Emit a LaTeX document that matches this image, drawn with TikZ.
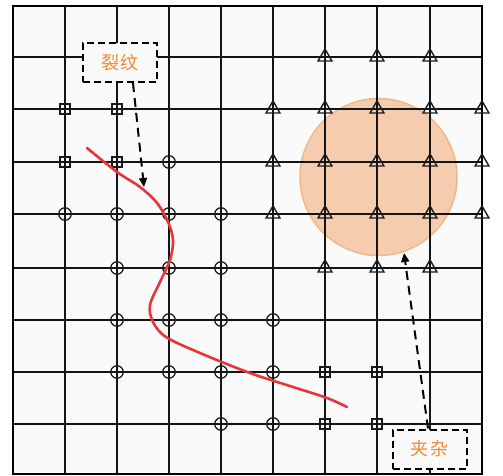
\documentclass[tikz,border=0pt]{standalone}
\usepackage{fontspec}
\newfontfamily\cjk{Noto Sans CJK SC}
\usetikzlibrary{shapes.geometric,arrows.meta}
\definecolor{lbl}{HTML}{F08A35}
\definecolor{peach}{HTML}{F5CDAE}
\definecolor{peachline}{HTML}{F0B88A}
\definecolor{crack}{HTML}{E8353B}
\definecolor{bgc}{HTML}{FAFAFA}
\tikzset{
  gridline/.style={line width=1.7pt, black!92},
  framebox/.style={line width=2.3pt, black},
  cmark/.style={circle, draw=black!90, line width=1.3pt, minimum size=12.5pt, inner sep=0pt},
  smark/.style={rectangle, draw=black!90, line width=1.3pt, minimum size=10pt, inner sep=0pt},
  tmark/.style={regular polygon, regular polygon sides=3, draw=black!90, line width=1.4pt, minimum size=16pt, inner sep=0pt},
  labelbox/.style={draw=black, fill=bgc, line width=2pt, dash pattern=on 7pt off 4pt, minimum width=74pt, minimum height=39pt, inner sep=0pt, text=lbl, font=\cjk\fontsize{18}{20}\selectfont},
  callout/.style={line width=2pt, dash pattern=on 9pt off 6pt, -{Triangle[length=9pt,width=8pt]}},
}
\begin{document}
\begin{tikzpicture}[x=1pt,y=-1pt]
\useasboundingbox (0,0) rectangle (503,476);
\fill[white] (0,0) rectangle (503,476);
\fill[bgc] (13,6) rectangle (482,474);
% inclusion region
\node[circle, fill=peach, draw=peachline, line width=1.5pt, minimum size=157pt, inner sep=0pt] (incl) at (378.5,177) {};
% grid
\foreach \x in {65,117,169,221,273,325,377,430}
  \draw[gridline] (\x,6) -- (\x,474);
\foreach \y in {57,109,162,214,268,320,372,424}
  \draw[gridline] (13,\y) -- (482,\y);
\draw[framebox] (13,6) rectangle (482,474);
% squares
\foreach \x/\y [count=\i] in {65/109,117/109,65/162,117/162,325/372,377/372,325/424,377/424}
  \node[smark] (s\i) at (\x,\y) {};
% circles
\foreach \x/\y [count=\i] in {169/162,65/214,117/214,169/214,221/214,117/268,169/268,221/268,117/320,169/320,221/320,273/320,117/372,169/372,221/372,273/372,221/424,273/424}
  \node[cmark] (c\i) at (\x,\y) {};
% triangles
\foreach \x/\y [count=\i] in {325/57,377/57,430/57,273/109,325/109,377/109,430/109,482/109,273/162,325/162,377/162,430/162,482/162,273/214,325/214,377/214,430/214,482/214,325/268,377/268,430/268}
  \node[tmark] (t\i) at (\x,\y) {};
% crack
\draw[crack, line width=2.6pt, line cap=round] plot[smooth, tension=0.55] coordinates {
 (87,148) (117,172) (140,187) (157,203) (168,222) (173,240) (170,260) (160,282) (150,305) (153,322) (166,337) (200,353) (250,373) (293,387) (327,398) (347,407)};
% labels
\node[labelbox] (lie) at (120,62.5) {裂\hspace{2pt}纹};
\node[labelbox] (jia) at (429.5,449) {夹\hspace{2pt}杂};
\coordinate (tipA) at (144,187);
\coordinate (tipB) at (404,253);
\draw[callout] ([xshift=13pt]lie.south) -- (tipA);
\draw[callout] ([xshift=-1.5pt]jia.north) -- (tipB);
\end{tikzpicture}
\end{document}
